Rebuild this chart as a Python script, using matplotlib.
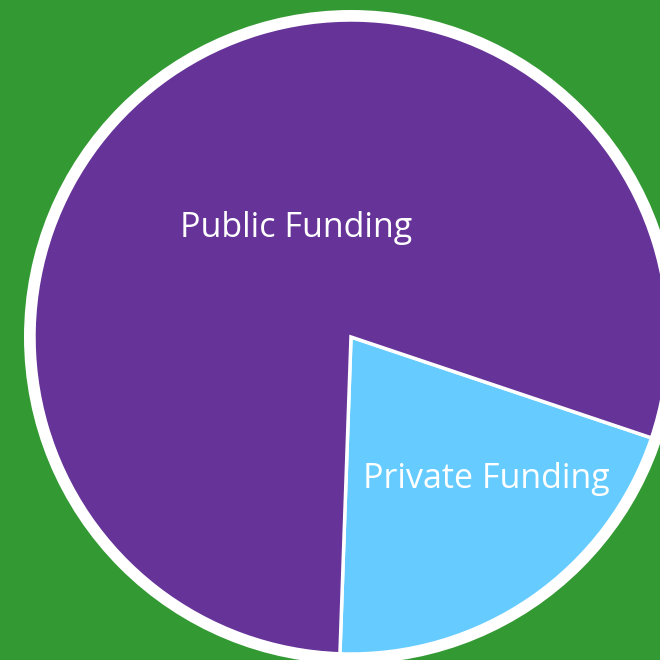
import matplotlib.pyplot as plt
from matplotlib.patches import Circle

labels = ['Private Funding', 'Public Funding']
shares = [20.4, 79.6]
colors = ['#66ccff', '#663399']

# pixel layout of the reference (660x660)
W = 660
cx, cy = 351, 337
R = 317.0

def to_data(px, py):
    return (px - cx) / R, (cy - py) / R

fig = plt.figure(figsize=(6.6, 6.6), dpi=100, facecolor='#339933')
ax = fig.add_axes([0, 0, 1, 1])
ax.set_facecolor('#339933')

# outer white ring
ax.add_patch(Circle((0, 0), 327 / R, facecolor='white', edgecolor='none', zorder=0))

wedges, _ = ax.pie(shares, colors=colors, startangle=-92, counterclock=True,
                   radius=1.0, wedgeprops=dict(edgecolor='white', linewidth=2.5))

for w in wedges:
    w.set_zorder(1)

x, y = to_data(296.5, 237)
ax.text(x, y, labels[1], color='white', fontsize=24.5, family='Open Sans',
        ha='center', va='baseline', zorder=3)
x, y = to_data(486, 488)
ax.text(x, y, labels[0], color='white', fontsize=24.5, family='Open Sans',
        ha='center', va='baseline', zorder=3)

ax.set_xlim(-cx / R, (W - cx) / R)
ax.set_ylim(-(W - cy) / R, cy / R)
ax.set_aspect('equal')
ax.axis('off')

fig.savefig('out.png', dpi=100, facecolor='#339933')
